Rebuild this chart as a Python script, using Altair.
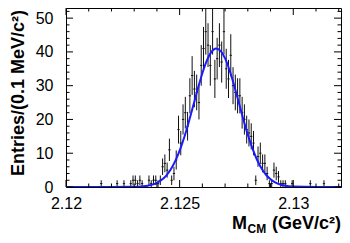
import altair as alt
import pandas as pd
import numpy as np

# histogram: bins of 0.1 MeV starting at 2.1200 GeV
bin_low = 2.1200
bin_width = 0.0001
counts = [
    0, 0, 0, 0, 0, 0, 0, 0, 0, 0,
    0, 0, 0, 0, 0, 1, 0, 0, 0, 0,
    0, 0, 1, 0, 0, 1, 0, 0, 1, 2,
    2, 1, 2, 1, 0, 0, 2, 1, 2, 2,
    1, 2, 6, 7, 5, 11, 2, 4, 8, 17,
    13, 20, 22, 18, 27, 33, 29, 28, 25, 36,
    41, 46, 42, 36, 46, 32, 38, 42, 37, 46,
    35, 32, 39, 30, 28, 27, 27, 22, 20, 17,
    16, 15, 13, 2, 9, 10, 7, 7, 4, 1,
    1, 5, 4, 3, 1, 1, 1, 0, 0, 1,
    0, 0, 0, 0, 0, 0, 0, 1, 0, 0,
    0, 0, 0, 1, 0, 0, 0, 0, 0, 0,
]

# fitted curve
fit_x = [2.1200, 2.1220, 2.1230,
         2.1232, 2.1234, 2.1236, 2.1238, 2.1240, 2.1242, 2.1244, 2.1246, 2.1248, 2.1250,
         2.1252, 2.1254, 2.1256, 2.1258, 2.1260, 2.1262, 2.1264, 2.1266, 2.1268, 2.1270,
         2.1272, 2.1274, 2.1276, 2.1278, 2.1280, 2.1282, 2.1284, 2.1286, 2.1288, 2.1290,
         2.1292, 2.1294, 2.1296, 2.1298, 2.1300,
         2.1310, 2.1321]
fit_y = [0, 0, 0.05,
         0.1, 0.21, 0.39, 0.71, 1.24, 2.07, 3.32, 5.12, 7.57, 10.74,
         14.65, 19.19, 24.1, 29.1, 33.7, 37.5, 40.0, 41.0, 40.3, 38.1,
         34.5, 30.0, 25.1, 20.1, 15.5, 11.5, 8.15, 5.55, 3.63, 2.28,
         1.37, 0.79, 0.44, 0.24, 0.12,
         0, 0]

x_major = [2.12, 2.125, 2.13]
x_minor = [2.121, 2.122, 2.123, 2.124, 2.126, 2.127, 2.128, 2.129, 2.131, 2.132]
y_major = [0, 10, 20, 30, 40, 50]
y_minor = [2, 4, 6, 8, 12, 14, 16, 18, 22, 24, 26, 28, 32, 34, 36, 38, 42, 44, 46, 48, 52]

x_domain = [2.12, 2.1321]
y_domain = [0, 53]
W, H = 275, 179
FONT = "Liberation Sans"

n = np.array(counts, dtype=float)
centers = bin_low + bin_width * (np.arange(len(counts)) + 0.5)
hist = pd.DataFrame({"x": centers, "n": n})
hist = hist[hist.n > 0].copy()
hist["lo"] = hist.n - np.sqrt(hist.n)
hist["hi"] = hist.n + np.sqrt(hist.n)
hist["xl"] = hist.x - bin_width / 2
hist["xr"] = hist.x + bin_width / 2

fit = pd.DataFrame({"x": fit_x, "y": fit_y})

xs = alt.Scale(domain=x_domain, nice=False, zero=False)
ys = alt.Scale(domain=y_domain, nice=False, zero=False)

x_axis = alt.Axis(values=x_major, format="~g", ticks=False, tickSize=0, domain=False,
                  grid=False, labelFontSize=16, labelFont=FONT, labelColor="black",
                  labelPadding=8, labelFlush=False, labelOverlap=False, title=None)
y_axis = alt.Axis(values=y_major, ticks=False, tickSize=0, domain=False, grid=False,
                  labelFontSize=16, labelFont=FONT, labelColor="black",
                  labelPadding=13, labelFlush=False, labelOverlap=False, title=None)


def X(field):
    return alt.X(field, scale=xs, axis=x_axis)


def Y(field):
    return alt.Y(field, scale=ys, axis=y_axis)


vbars = alt.Chart(hist).mark_rule(color="#111111", strokeWidth=1, clip=True).encode(
    x=X("x:Q"), y=Y("lo:Q"), y2="hi:Q",
)
hbars = alt.Chart(hist).mark_rule(color="#111111", strokeWidth=1, clip=True).encode(
    x=X("xl:Q"), x2="xr:Q", y=Y("n:Q")
)
curve = alt.Chart(fit).mark_line(color="#1a1aff", strokeWidth=2, interpolate="monotone",
                                 clip=True).encode(x=X("x:Q"), y=Y("y:Q"))


def xticks(vals, length):
    df = pd.DataFrame({"v": vals})
    bot = alt.Chart(df).mark_rule(color="black", strokeWidth=1).encode(
        x=X("v:Q"), y=alt.value(H), y2=alt.value(H - length))
    top = alt.Chart(df).mark_rule(color="black", strokeWidth=1).encode(
        x=X("v:Q"), y=alt.value(0), y2=alt.value(length))
    return [bot, top]


def yticks(vals, length):
    df = pd.DataFrame({"v": vals})
    left = alt.Chart(df).mark_rule(color="black", strokeWidth=1).encode(
        y=Y("v:Q"), x=alt.value(0), x2=alt.value(length))
    right = alt.Chart(df).mark_rule(color="black", strokeWidth=1).encode(
        y=Y("v:Q"), x=alt.value(W), x2=alt.value(W - length))
    return [left, right]


one = pd.DataFrame({"a": [0]})
ytitle = alt.Chart(one).mark_text(text="Entries/(0.1 MeV/c²)", angle=270, align="right",
                                  baseline="alphabetic", font=FONT, fontWeight="bold",
                                  fontSize=18, color="black").encode(
    x=alt.value(-42), y=alt.value(2))
xt_m = alt.Chart(one).mark_text(text="M", align="left", baseline="alphabetic", font=FONT,
                                fontWeight="bold", fontSize=18, color="black").encode(
    x=alt.value(166), y=alt.value(221))
xt_cm = alt.Chart(one).mark_text(text="CM", align="left", baseline="alphabetic", font=FONT,
                                 fontWeight="bold", fontSize=12, color="black").encode(
    x=alt.value(181.5), y=alt.value(225))
xt_rest = alt.Chart(one).mark_text(text="(GeV/c²)", align="right", baseline="alphabetic",
                                   font=FONT, fontWeight="bold", fontSize=18,
                                   color="black").encode(
    x=alt.value(275), y=alt.value(221))

layers = [vbars, hbars, curve] + xticks(x_major, 7) + xticks(x_minor, 3.5) \
    + yticks(y_major, 7) + yticks(y_minor, 3.5) + [ytitle, xt_m, xt_cm, xt_rest]

chart = alt.layer(*layers).properties(
    width=W, height=H, autosize="none",
    padding={"left": 58, "top": 0, "right": 1, "bottom": 48},
).configure_view(stroke="black", strokeWidth=1)

chart.save("out.html", embed_options={"renderer": "svg", "actions": False})
